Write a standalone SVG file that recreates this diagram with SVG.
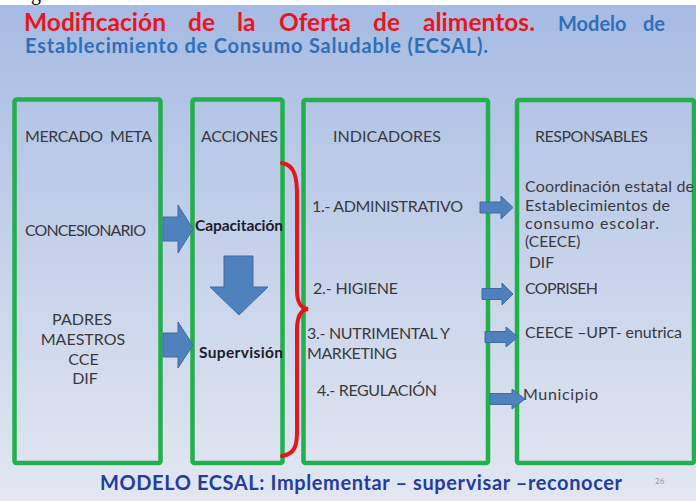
<svg xmlns="http://www.w3.org/2000/svg" width="696" height="501" viewBox="0 0 696 501">
<defs>
<linearGradient id="bg" x1="0" y1="0" x2="0" y2="1">
<stop offset="0" stop-color="#a6bbe3"/>
<stop offset="0.5" stop-color="#c6d2ea"/>
<stop offset="1" stop-color="#e2e7f1"/>
</linearGradient>
<style>
.box{fill:none;stroke:#21b04b;stroke-width:4.5}
.t{font-family:Lato,"Open Sans","Liberation Sans",sans-serif;font-size:16px;fill:#3a3a3e}
.r{font-family:Lato,"Open Sans","Liberation Sans",sans-serif;font-size:15.5px;fill:#3a3a3e}
.b{font-family:Lato,"Open Sans","Liberation Sans",sans-serif;font-size:15.5px;font-weight:bold;fill:#1c1c2c}
.red{font-family:Lato,"Open Sans","Liberation Sans",sans-serif;font-size:24.5px;font-weight:bold;fill:#e8151f}
.blue{font-family:Lato,"Open Sans","Liberation Sans",sans-serif;font-size:20px;font-weight:bold;fill:#2f70b6}
.foot{font-family:Lato,"Open Sans","Liberation Sans",sans-serif;font-size:20px;font-weight:bold;fill:#243c9c}
.arr{fill:#4f81bd;stroke:#3e6ca6;stroke-width:1}
.brace{fill:none;stroke:#e3161c;stroke-width:4;stroke-linecap:round}
</style>
</defs>
<rect x="0" y="0" width="696" height="501" fill="#ffffff"/>
<text x="31" y="0" font-family="Liberation Serif, serif" font-size="20" fill="#000">g</text>
<rect x="0" y="5" width="696" height="496" fill="url(#bg)"/>

<g id="title">
<text class="red" y="31"><tspan x="24" textLength="142">Modificación</tspan><tspan x="188">de</tspan><tspan x="237">la</tspan><tspan x="279">Oferta</tspan><tspan x="373">de</tspan><tspan x="423" textLength="112">alimentos.</tspan></text>
<text class="blue" y="31"><tspan x="558">Modelo</tspan><tspan x="643">de</tspan></text>
<text class="blue" x="25" y="53" textLength="463">Establecimiento de Consumo Saludable (ECSAL).</text>
</g>

<g id="mercado-meta">
<rect class="box" x="14.5" y="99.5" width="146" height="363.5" rx="2"/>
<text class="t" x="25" y="142" textLength="127" style="white-space:pre">MERCADO  META</text>
<text class="t" x="25" y="236" textLength="121">CONCESIONARIO</text>
<text class="t" text-anchor="middle"><tspan x="82" y="325">PADRES</tspan><tspan x="83" y="345">MAESTROS</tspan><tspan x="83.5" y="365">CCE</tspan><tspan x="85" y="384">DIF</tspan></text>
</g>

<g id="acciones">
<rect class="box" x="192.5" y="99.5" width="90" height="363.5" rx="2"/>
<text class="t" x="201" y="142" textLength="77">ACCIONES</text>
<text class="b" x="195" y="231" textLength="88">Capacitación</text>
<text class="b" x="199" y="358" textLength="84">Supervisión</text>
</g>

<g id="indicadores">
<rect class="box" x="303.5" y="100" width="184.5" height="363" rx="2"/>
<text class="t" x="333" y="142" textLength="108">INDICADORES</text>
<text class="t" x="312" y="212" textLength="151">1.- ADMINISTRATIVO</text>
<text class="t" x="313" y="294" textLength="85">2.- HIGIENE</text>
<text class="t" x="307" y="339" textLength="143">3.- NUTRIMENTAL Y</text>
<text class="t" x="307" y="359" textLength="90">MARKETING</text>
<text class="t" x="317" y="396" textLength="120">4.- REGULACIÓN</text>
</g>

<g id="responsables">
<rect class="box" x="517" y="100" width="177" height="363" rx="2"/>
<text class="t" x="535" y="142" textLength="113">RESPONSABLES</text>
<text class="t" x="525" y="192" textLength="169">Coordinación estatal de</text>
<text class="t" x="525" y="211" textLength="145">Establecimientos de</text>
<text class="t" x="525" y="229" textLength="134">consumo escolar.</text>
<text class="r" x="525" y="247">(CEECE)</text>
<text class="r" x="529" y="268">DIF</text>
<text class="t" x="525" y="294" textLength="73">COPRISEH</text>
<text class="t" x="525" y="338" textLength="157">CEECE –UPT- enutrica</text>
<text class="t" x="523" y="400" textLength="75">Municipio</text>
</g>

<g id="connectors">
<path class="arr" d="M163,217 H178 V205 L193,229 L178,253 V241 H163 Z"/>
<path class="arr" d="M163,333 H178 V322 L193,345 L178,368 V357 H163 Z"/>
<path class="arr" d="M224,256 H253 V287 H268 L239,315 L210,287 H224 Z"/>
<path class="brace" d="M282,163 C295,165 297,178 297,195 L297,290 C297,302 300,308 308,309 C300,310 297,317 297,330 L297,432 C297,447 294,454 282,456"/>
<path class="arr" d="M480,202 H501 V196 L513,207.5 L501,219 V213 H480 Z"/>
<path class="arr" d="M482,288.5 H502 V283 L513,294 L502,305 V299.5 H482 Z"/>
<path class="arr" d="M485,331.5 H506 V327 L518,337 L506,347 V342.5 H485 Z"/>
<path class="arr" d="M490,393.5 H512 V389 L525,399 L512,409 V404.5 H490 Z"/>
</g>

<g id="footer">
<text class="foot" x="100" y="490" textLength="522">MODELO ECSAL: Implementar – supervisar –reconocer</text>
<text x="655" y="484" font-family="Lato, sans-serif" font-size="8" fill="#9a9a9a">26</text>
</g>
</svg>
